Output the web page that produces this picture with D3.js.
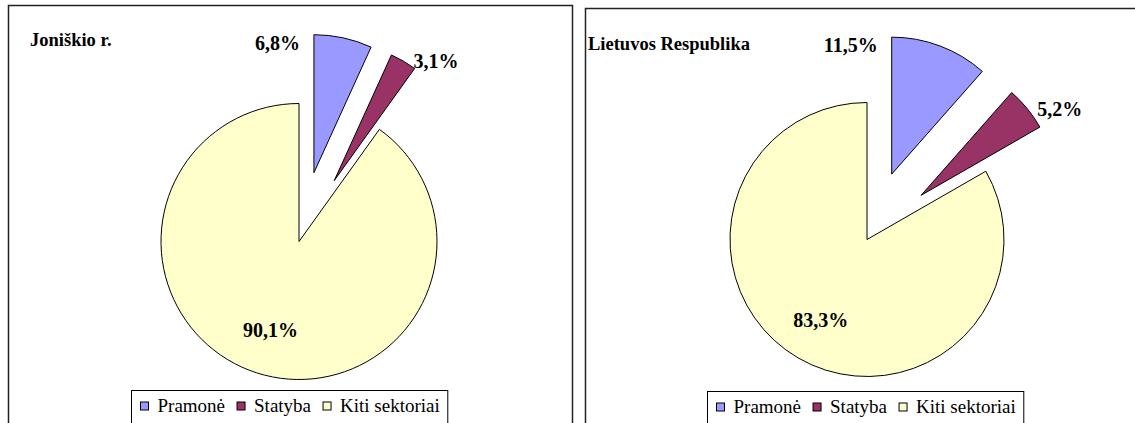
<!DOCTYPE html>
<html>
<head>
<meta charset="utf-8">
<script src="https://cdn.jsdelivr.net/npm/d3@7"></script>
<style>
	body { margin: 0; background: #fff; }
</style>
</head>
<body>
<svg id="chart" width="1135" height="423"></svg>
<script>
(function(){

	// chart data
	const categories = ["Pramonė", "Statyba", "Kiti sektoriai"];
	const joniskioValues = [6.8, 3.1, 90.1];
	const lietuvaValues = [11.5, 5.2, 83.3];
	const regionTitles = ["Joniškio r.", "Lietuvos Respublika"];
	const sliceColors = ["#9999ff", "#993366", "#ffffcc"];
	const explodedSlices = [true, true, false];

	const fontFamily = "'Liberation Serif', 'DejaVu Serif', serif";

	const svg = d3.select("#chart")
		.style("font-family", fontFamily);

	// layout of the two chart boxes
	const panels = [
		{values: joniskioValues, title: regionTitles[0], x: 8.5, y: 5.5, w: 564, cx: 299, cy: 241.5, r: 138,
			titleX: 30, titleY: 46, legendX: 131.5, legendY: 390.5},
		{values: lietuvaValues, title: regionTitles[1], x: 585.5, y: 8.5, w: 620, cx: 867, cy: 239.5, r: 137,
			titleX: 588, titleY: 50, legendX: 707.5, legendY: 391.5}
	];

	const pct = function(v) { return d3.format(".1f")(v).replace(".", ",") + "%"; };
	const pie = d3.pie().sort(null).value(function(d) { return d; });

	function drawPanel(p) {
		// outer frame (bottom and right run past the picture)
		svg.append("rect")
			.attr("x", p.x).attr("y", p.y)
			.attr("width", p.w).attr("height", 500)
			.attr("fill", "none")
			.attr("stroke", "#222")
			.attr("stroke-width", 1.5);

		svg.append("text")
			.attr("x", p.titleX).attr("y", p.titleY)
			.attr("font-family", fontFamily)
			.attr("font-size", "18.5px")
			.attr("font-weight", "bold")
			.text(p.title);

		const arcs = pie(p.values);
		const arc = d3.arc().innerRadius(0).outerRadius(p.r);
		const explodeArc = d3.arc().innerRadius(p.r * 0.51).outerRadius(p.r * 0.51);
		const rimArc = d3.arc().innerRadius(p.r).outerRadius(p.r);
		const insideArc = d3.arc().innerRadius(p.r * 0.675).outerRadius(p.r * 0.675);

		const g = svg.append("g").attr("transform", "translate(" + p.cx + "," + p.cy + ")");

		const slice = g.selectAll("g.slice").data(arcs).enter().append("g")
			.attr("class", "slice")
			.attr("transform", function(d, i) {
				if (!explodedSlices[i]) return null;
				const c = explodeArc.centroid(d);
				return "translate(" + c[0] + "," + c[1] + ")";
			});

		slice.append("path")
			.attr("d", arc)
			.attr("fill", function(d, i) { return sliceColors[i]; })
			.attr("stroke", "#000")
			.attr("stroke-width", 1);

		// data labels: big slice inside, small ones next to their rim
		slice.append("text")
			.attr("font-family", fontFamily)
			.attr("font-size", "20px")
			.attr("font-weight", "bold")
			.attr("dominant-baseline", "central")
			.attr("text-anchor", function(d, i) {
				if (!explodedSlices[i]) return "middle";
				return i == 0 ? "end" : "start";
			})
			.attr("transform", function(d, i) {
				let pos;
				if (!explodedSlices[i]) {
					pos = insideArc.centroid(d);
				} else if (i == 0) {
					const a = d.startAngle;
					pos = [p.r * Math.sin(a) - 14, -p.r * Math.cos(a) + 8];
				} else {
					const m = rimArc.centroid(d);
					pos = [m[0] + 10, m[1]];
				}
				return "translate(" + pos[0] + "," + pos[1] + ")";
			})
			.text(function(d) { return pct(d.data); });

		// legend
		const lg = svg.append("g").attr("transform", "translate(" + p.legendX + "," + p.legendY + ")");
		const box = lg.append("rect")
			.attr("height", 40)
			.attr("fill", "#fff")
			.attr("stroke", "#000")
			.attr("stroke-width", 1);

		let lx = 9;
		categories.forEach(function(c, i) {
			lg.append("rect")
				.attr("x", lx).attr("y", 11.5)
				.attr("width", 8).attr("height", 8)
				.attr("fill", sliceColors[i])
				.attr("stroke", "#000")
				.attr("stroke-width", 1);
			const t = lg.append("text")
				.attr("x", lx + 17).attr("y", 21.5)
				.attr("font-family", fontFamily)
				.attr("font-size", "19px")
				.text(c);
			lx += 17 + t.node().getComputedTextLength() + 12;
		});
		box.attr("width", lx - 4);
	}

	panels.forEach(drawPanel);

}());
</script>
</body>
</html>
